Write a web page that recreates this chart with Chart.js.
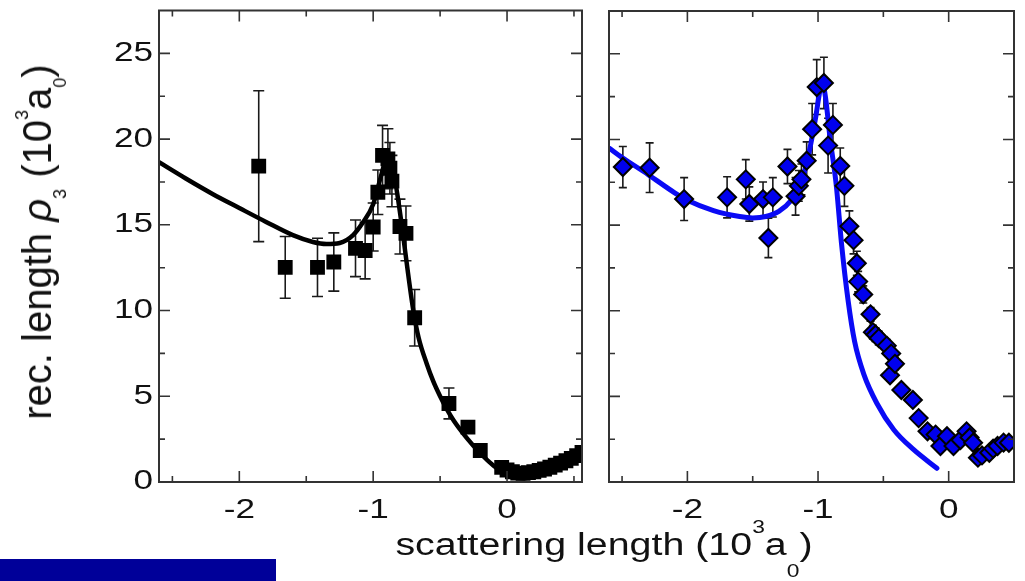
<!DOCTYPE html>
<html><head><meta charset="utf-8">
<script src="https://cdn.jsdelivr.net/npm/chart.js@4.4.1/dist/chart.umd.min.js"></script>
<style>
html,body{margin:0;padding:0;background:#fff;width:1025px;height:581px;overflow:hidden;position:relative;}
#left{position:absolute;left:0;top:0;width:595px;height:581px;}
#right{position:absolute;left:595px;top:0;width:430px;height:581px;}
#xtitle{position:absolute;left:604px;top:529px;font:31px/31px "Liberation Sans",Arial,sans-serif;white-space:nowrap;color:#111;transform:translateX(-50%) scaleX(1.27);transform-origin:50% 50%;}
#xtitle sup{font-size:0.58em;position:relative;top:-22px;vertical-align:baseline;}
#xtitle sub{font-size:0.58em;position:relative;top:22px;vertical-align:baseline;}
#ytitle{position:absolute;left:17px;top:242px;font:40px/40px "Liberation Sans",Arial,sans-serif;white-space:nowrap;color:#111;transform-origin:0 0;transform:rotate(-90deg) translateX(-50%);}
#ytitle sup{font-size:0.45em;position:relative;top:-23px;vertical-align:baseline;}
#ytitle sub{font-size:0.45em;position:relative;top:15px;vertical-align:baseline;}
#bar{position:absolute;left:0;top:559px;width:276px;height:22px;background:#000099;}
</style></head><body>
<div id="left"><canvas id="c1"></canvas></div>
<div id="right"><canvas id="c2"></canvas></div>
<div id="xtitle">scattering length (10<sup>3</sup>a<sub>0</sub>)</div>
<div id="ytitle">rec. length <i>ρ</i><sub>3</sub> (10<sup>3</sup>a<sub>0</sub>)</div>
<div id="bar"></div>
<script>
// ---- tick data ----
const majorXTicks = [-2, -1, 0];
const xTickLabels = ['-2', '-1', '0'];
const minorXTicks = [-2.5, -1.5, -0.5, 0.5];
const majorYTicks = [0, 5, 10, 15, 20, 25];
const yTickLabels = ['0', '5', '10', '15', '20', '25'];
const minorYTicks = [2.5, 7.5, 12.5, 17.5, 22.5];

// ---- left panel: measured points ----
const leftX = [-1.855,-1.657,-1.416,-1.294,-1.132,-1.06,-1.0,-0.965,-0.93,-0.89,-0.875,-0.86,-0.8,-0.755,-0.69,-0.434,-0.292,-0.2,-0.04,0.0,0.04,0.08,0.12,0.16,0.2,0.24,0.28,0.32,0.36,0.4,0.44,0.48,0.52,0.56];
const leftY = [18.42,12.52,12.52,12.83,13.63,13.5,14.87,16.9,19.05,18.85,18.3,17.55,14.9,14.5,9.58,4.58,3.2,1.84,0.85,0.7,0.6,0.52,0.5,0.55,0.6,0.68,0.76,0.86,0.98,1.1,1.24,1.38,1.54,1.72];
const leftErr = [4.4,1.8,1.7,1.7,1.65,1.65,1.4,1.3,1.75,1.75,1.5,1.5,1.6,1.6,1.65,0.9,0.3,0.2,0.2,0.2,0.2,0.2,0.2,0.2,0.2,0.2,0.2,0.2,0.2,0.2,0.2,0.2,0.2,0.2];
// ---- left panel: fit curve ----
const leftFitX = [-2.6,-2.4,-2.2,-2.0,-1.8,-1.6,-1.45,-1.35,-1.25,-1.15,-1.08,-1.0,-0.95,-0.91,-0.885,-0.86,-0.82,-0.78,-0.74,-0.7,-0.66,-0.6,-0.55,-0.5,-0.45,-0.4,-0.3,-0.2,-0.1,-0.03,0.05,0.12,0.2,0.3,0.4,0.5,0.56];
const leftFitY = [18.65,17.7,16.8,15.98,15.17,14.4,14.0,13.88,13.94,14.4,15.1,16.2,17.6,18.7,19.0,18.6,16.8,14.6,12.2,10.0,8.4,6.9,5.85,5.0,4.25,3.6,2.56,1.68,0.95,0.57,0.3,0.22,0.32,0.58,0.95,1.38,1.68];

// ---- right panel: measured points ----
const rightX = [-2.494,-2.289,-2.025,-1.696,-1.553,-1.526,-1.421,-1.38,-1.346,-1.234,-1.172,-1.147,-1.127,-1.087,-1.045,-1.01,-0.955,-0.886,-0.923,-0.83,-0.798,-0.76,-0.728,-0.703,-0.693,-0.654,-0.598,-0.58,-0.56,-0.535,-0.474,-0.449,-0.44,-0.411,-0.362,-0.274,-0.23,-0.162,-0.1,-0.063,-0.013,0.037,0.09,0.137,0.16,0.187,0.224,0.255,0.311,0.34,0.374,0.42,0.461];
const rightY = [18.39,18.35,16.52,16.62,17.67,16.23,16.52,14.25,16.62,18.42,16.68,17.29,17.67,18.76,20.6,23.06,23.3,20.85,19.64,18.45,17.29,14.93,14.12,12.77,11.7,10.95,9.79,8.75,8.6,8.4,7.96,6.23,7.5,6.9,5.37,4.79,3.73,2.96,2.77,2.1,2.67,2.1,2.45,2.96,2.6,2.29,1.42,1.55,1.71,1.95,2.1,2.3,2.29];
const rightErr = [1.2,1.45,1.25,1.2,1.15,1.0,1.0,1.15,1.15,1.0,1.1,0.9,0.9,1.1,1.5,1.6,1.5,1.25,1.6,1.05,1.2,0.9,0.8,0.7,0.6,0.5,0.4,0.4,0.4,0.4,0.35,0.35,0.35,0.35,0.3,0.3,0.25,0.2,0.2,0.2,0.2,0.2,0.2,0.2,0.2,0.2,0.2,0.2,0.2,0.2,0.2,0.2,0.2];
// ---- right panel: fit curve ----
const rightFitX = [-2.6,-2.5,-2.3,-2.1,-2.0,-1.8,-1.6,-1.5,-1.4,-1.3,-1.2,-1.13,-1.07,-1.02,-0.985,-0.965,-0.94,-0.91,-0.86,-0.82,-0.77,-0.72,-0.65,-0.55,-0.42,-0.27,-0.09];
const rightFitY = [19.5,18.95,17.95,16.9,16.45,15.85,15.5,15.42,15.5,15.8,16.5,17.4,19.2,21.2,22.85,23.25,22.3,20.2,17.3,13.9,10.6,8.2,6.3,4.6,3.05,1.9,0.8];

const pts = (xs, ys) => xs.map((x, i) => ({x: x, y: ys[i]}));
const FONT = '27px "Liberation Sans", Arial, sans-serif';

function panelPlugin(cfg) {
  return {
    id: 'panel' + cfg.name,
    beforeDatasetsDraw(chart) {
      const ctx = chart.ctx, xs = chart.scales.x, ys = chart.scales.y, a = chart.chartArea;
      ctx.save();
      ctx.beginPath(); ctx.rect(a.left, a.top, a.right - a.left, a.bottom - a.top); ctx.clip();
      ctx.strokeStyle = '#1a1a1a'; ctx.lineWidth = 1.6;
      cfg.ex.forEach((x, i) => {
        const px = xs.getPixelForValue(x);
        const t = ys.getPixelForValue(cfg.ey[i] + cfg.ee[i]);
        const b = ys.getPixelForValue(cfg.ey[i] - cfg.ee[i]);
        ctx.beginPath();
        ctx.moveTo(px, t); ctx.lineTo(px, b);
        ctx.moveTo(px - cfg.cap, t); ctx.lineTo(px + cfg.cap, t);
        ctx.moveTo(px - cfg.cap, b); ctx.lineTo(px + cfg.cap, b);
        ctx.stroke();
      });
      ctx.restore();
    },
    afterDraw(chart) {
      const ctx = chart.ctx, xs = chart.scales.x, ys = chart.scales.y, a = chart.chartArea;
      ctx.save();
      ctx.strokeStyle = '#333'; ctx.lineWidth = 1.6;
      const tick = (vals, len) => {
        vals.forEach(v => {
          if (v < xs.min || v > xs.max) return;
          const px = xs.getPixelForValue(v);
          ctx.beginPath();
          ctx.moveTo(px, a.bottom); ctx.lineTo(px, a.bottom - len);
          ctx.moveTo(px, a.top); ctx.lineTo(px, a.top + len);
          ctx.stroke();
        });
      };
      const ytick = (vals, len) => {
        vals.forEach(v => {
          const py = ys.getPixelForValue(v);
          ctx.beginPath();
          ctx.moveTo(a.left, py); ctx.lineTo(a.left + len, py);
          ctx.moveTo(a.right, py); ctx.lineTo(a.right - len, py);
          ctx.stroke();
        });
      };
      tick(majorXTicks, 11); tick(minorXTicks, 6);
      ytick(majorYTicks, 11); ytick(minorYTicks, 6);
      ctx.lineWidth = 2; ctx.strokeStyle = '#333';
      ctx.strokeRect(a.left, a.top, a.right - a.left, a.bottom - a.top);
      ctx.fillStyle = '#111'; ctx.font = FONT; ctx.textBaseline = 'middle';
      const stretch = (txt, x, y, align) => {
        ctx.save(); ctx.translate(x, y); ctx.scale(1.3, 1); ctx.textAlign = align; ctx.fillText(txt, 0, 0); ctx.restore();
      };
      majorXTicks.forEach((v, i) => stretch(xTickLabels[i], xs.getPixelForValue(v), 511, 'center'));
      if (cfg.yLabels) {
        majorYTicks.forEach((v, i) => stretch(yTickLabels[i], a.left - 6, ys.getPixelForValue(v), 'right'));
      }
      ctx.restore();
    }
  };
}

function makeChart(id, cfg) {
  return new Chart(document.getElementById(id), {
    type: 'scatter',
    data: { datasets: cfg.datasets },
    options: {
      responsive: true, maintainAspectRatio: false, animation: false,
      devicePixelRatio: 1,
      layout: { padding: cfg.padding },
      plugins: { legend: { display: false }, tooltip: { enabled: false } },
      scales: {
        x: { type: 'linear', min: cfg.xmin, max: cfg.xmax,
             grid: { display: false }, border: { display: false }, ticks: { display: false },
             afterFit(s) { s.height = 99; } },
        y: { type: 'linear', min: 0, max: 27.5,
             grid: { display: false }, border: { display: false }, ticks: { display: false },
             afterFit(s) { s.width = cfg.yWidth; } }
      }
    },
    plugins: [panelPlugin(cfg)]
  });
}

makeChart('c1', {
  name: 'L', xmin: -2.6, xmax: 0.56, yWidth: 159, yLabels: true,
  padding: { left: 0, top: 6, right: 13, bottom: 0 },
  ex: leftX, ey: leftY, ee: leftErr, cap: 5.5,
  datasets: [
    { data: pts(leftX, leftY), pointStyle: 'rect', pointRadius: 10.5, pointBackgroundColor: '#000', pointBorderColor: '#000', pointBorderWidth: 0, showLine: false },
    { data: pts(leftFitX, leftFitY), showLine: true, pointRadius: 0, borderColor: '#000', borderWidth: 4.5, cubicInterpolationMode: 'monotone', borderCapStyle: 'round' }
  ]
});

makeChart('c2', {
  name: 'R', xmin: -2.6, xmax: 0.5, yWidth: 14, yLabels: false,
  padding: { left: 0, top: 8, right: 1, bottom: 0 },
  ex: rightX, ey: rightY, ee: rightErr, cap: 4,
  datasets: [
    { data: pts(rightX, rightY), pointStyle: 'rectRot', pointRadius: 9, pointBackgroundColor: '#0000ee', pointBorderColor: '#000', pointBorderWidth: 2, showLine: false },
    { data: pts(rightFitX, rightFitY), showLine: true, pointRadius: 0, borderColor: '#0a0af5', borderWidth: 5, cubicInterpolationMode: 'monotone', borderCapStyle: 'round' }
  ]
});
</script>
</body></html>
